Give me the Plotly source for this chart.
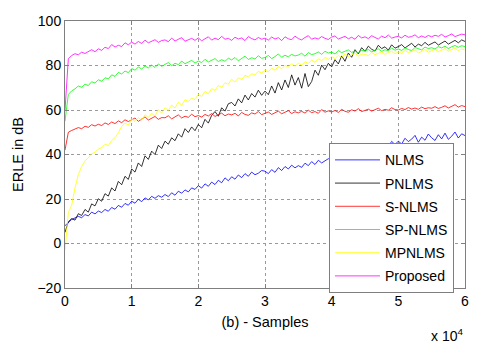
import plotly.graph_objects as go

# samples axis, one value every 500 samples
samples = list(range(0, 60001, 500))

x_tick_vals = [0, 10000, 20000, 30000, 40000, 50000, 60000]
x_tick_text = ["0", "1", "2", "3", "4", "5", "6"]
y_tick_vals = [-20, 0, 20, 40, 60, 80, 100]

nlms = [
    8, 9.6, 10.8, 11.5, 12.2, 11.6, 13.0, 12.4, 14.1, 13.3,
    14.6, 13.9, 15.3, 14.5, 16.2, 15.4, 17.1, 16.3, 18.0, 17.2,
    19.0, 18.1, 19.9, 18.8, 20.5, 19.6, 21.2, 20.3, 21.5, 20.8,
    22.0, 21.1, 22.8, 21.7, 23.5, 22.6, 24.1, 23.2, 25.0, 24.3,
    26.0, 24.9, 26.8, 25.7, 27.6, 26.5, 28.4, 27.3, 29.5, 28.2,
    30.0, 28.9, 30.8, 29.6, 31.4, 30.2, 32.1, 30.9, 31.6, 32.8,
    32.5, 31.4, 33.2, 32.0, 34.1, 32.8, 34.6, 33.5, 35.2, 34.0,
    35.0, 34.2, 36.1, 35.0, 36.8, 35.5, 37.4, 36.2, 37.0, 38.1,
    38.0, 37.2, 38.9, 38.1, 39.6, 38.7, 40.2, 39.4, 41.0, 40.1,
    41.0, 40.3, 42.1, 41.5, 43.0, 42.2, 44.8, 43.6, 45.9, 44.5,
    46.0, 44.7, 47.3, 45.8, 46.9, 48.6, 45.5, 47.8, 46.4, 49.2,
    47.5, 46.3, 48.9, 47.0, 49.6, 46.8, 48.2, 50.1, 47.4, 49.3,
    48.5,
]

pnlms = [
    5, 9.8, 11.2, 10.5, 13.4, 12.6, 15.3, 14.1, 17.8, 16.9,
    20.1, 19.0, 22.4, 21.3, 25.0, 23.6, 27.9, 26.4, 30.2, 28.8,
    33.5, 32.1, 36.2, 34.6, 39.4, 37.8, 41.5, 40.0, 44.2, 42.7,
    46.0, 44.6, 47.5, 46.2, 49.3, 47.8, 51.6, 49.9, 52.4, 50.7,
    53.5, 52.0, 55.8, 54.1, 57.6, 59.3, 57.2, 61.0, 59.5, 62.8,
    63.4, 61.8, 65.0, 63.2, 66.7, 64.5, 67.4, 65.8, 68.9, 66.6,
    68.5, 66.9, 70.8, 67.6, 72.3, 69.0, 73.5, 70.1, 75.8, 71.2,
    74.6, 69.8, 76.4, 70.5, 72.8, 77.9, 75.6, 80.2, 78.1, 81.0,
    79.4, 82.6, 80.7, 84.3, 81.9, 85.6, 83.7, 87.1, 85.2, 88.0,
    86.4, 88.7, 87.3, 86.5, 89.1, 87.6, 88.4, 86.9, 89.3, 87.8,
    88.5, 89.4, 87.9, 88.8, 90.0, 88.3, 89.6, 88.9, 90.4, 89.1,
    89.7, 90.6, 89.2, 90.1, 91.0, 89.6, 90.5, 91.3, 90.2, 91.5,
    90.8,
]

s_nlms = [
    42, 50.0, 50.8, 51.4, 52.1, 51.6, 52.7, 52.2, 53.4, 52.8,
    53.6, 53.0, 54.2, 53.5, 54.6, 53.9, 55.1, 54.3, 55.6, 54.8,
    55.5, 56.4, 54.9, 55.8, 56.9, 55.5, 56.2, 57.1, 55.8, 56.6,
    56.5, 57.4, 56.0, 56.9, 57.8, 56.4, 57.2, 56.7, 58.1, 57.0,
    57.5, 56.8, 58.0, 57.3, 58.4, 57.1, 57.9, 58.6, 57.4, 58.2,
    57.8, 58.5, 57.3, 58.9, 58.0, 57.6, 58.7, 58.2, 59.3, 57.9,
    58.5, 59.1, 58.0, 58.8, 59.5, 58.3, 58.9, 59.7, 58.4, 59.2,
    58.7, 59.4, 58.6, 59.9, 58.8, 59.3, 58.5, 60.2, 59.0, 59.6,
    59.1, 59.8, 58.9, 60.3, 59.4, 59.0, 60.1, 59.5, 60.6, 59.3,
    59.8, 60.4, 59.5, 60.0, 60.8, 59.7, 60.3, 59.9, 61.0, 60.2,
    60.0, 60.7, 60.2, 61.1, 60.4, 60.9, 60.3, 61.3, 60.6, 61.0,
    60.8, 61.5, 60.7, 61.2, 61.9, 60.9, 61.6, 62.4, 61.3, 62.0,
    61.5,
]

sp_nlms = [
    55, 67.0, 68.6, 69.5, 70.8, 70.2, 71.6, 71.0, 72.7, 72.1,
    73.6, 72.9, 74.5, 74.0, 75.8, 75.1, 76.9, 76.2, 77.5, 76.8,
    78.6, 77.9, 79.3, 78.4, 79.8, 78.9, 80.2, 79.1, 80.7, 79.6,
    80.5, 81.3, 79.9, 81.0, 80.4, 82.0, 80.8, 81.6, 82.3, 81.1,
    82.0, 81.3, 82.8, 81.6, 82.4, 83.1, 81.8, 82.6, 81.9, 83.3,
    82.5, 83.6, 82.1, 83.0, 84.2, 82.7, 83.5, 82.9, 84.4, 83.2,
    83.6, 84.5, 83.1, 84.0, 85.2, 83.7, 84.6, 83.9, 85.0, 84.3,
    84.7, 85.5, 84.2, 85.8, 84.9, 85.3, 86.1, 85.0, 86.4, 85.6,
    86.0, 85.2, 86.7, 85.8, 86.3, 87.0, 85.9, 86.5, 85.7, 86.8,
    86.5, 87.2, 86.1, 86.9, 87.5, 86.3, 87.1, 86.6, 87.8, 86.9,
    87.4, 86.8, 87.9, 87.2, 86.7, 88.1, 87.5, 87.0, 88.3, 87.6,
    88.0, 87.4, 88.5, 87.9, 88.7, 87.6, 88.4, 89.0, 88.2, 88.9,
    88.5,
]

mpnlms = [
    -3, 14.0, 17.2, 25.0, 31.0, 34.6, 37.2, 38.5, 40.3, 41.0,
    42.4, 43.1, 44.6, 44.0, 46.3, 47.5, 49.8, 52.6, 54.1, 53.2,
    56.0, 54.8, 56.6, 55.4, 57.9, 56.7, 58.5, 57.3, 60.2, 58.6,
    61.0, 59.8, 62.2, 60.9, 63.5, 62.1, 64.6, 63.8, 65.4, 64.7,
    67.0, 66.1, 68.4, 67.3, 69.6, 68.8, 71.0, 70.2, 72.3, 71.5,
    73.8, 72.6, 74.5, 73.7, 75.6, 74.9, 76.3, 75.8, 77.4, 76.6,
    78.0, 77.1, 78.8, 77.9, 79.5, 78.6, 80.1, 79.3, 80.8, 79.7,
    81.0, 80.2, 81.7, 80.9, 82.4, 81.5, 83.0, 82.2, 83.6, 82.8,
    84.0, 83.1, 84.5, 83.6, 85.2, 84.0, 84.8, 85.5, 84.3, 85.1,
    85.0, 84.4, 85.8, 84.9, 85.4, 86.2, 85.0, 85.7, 86.4, 85.3,
    86.0, 85.4, 86.7, 85.8, 86.3, 87.0, 85.6, 86.5, 87.2, 86.0,
    86.5, 87.3, 86.2, 86.9, 87.6, 86.4, 87.1, 87.8, 86.7, 87.4,
    87.0,
]

proposed = [
    60, 83, 84.5, 85.3, 84.8, 86, 85.4, 86.3, 87.1, 86.2,
    87.5, 86.8, 88.2, 87.6, 89.4, 88.3, 89.1, 88.5, 90.2, 89.3,
    90.5, 89.6, 90.8, 89.9, 91.4, 90.2, 90.9, 91.6, 90.4, 91.2,
    91.5, 90.7, 92.3, 91.0, 91.8, 92.5, 90.9, 91.7, 92.2, 91.3,
    92.4, 91.1, 92.0, 92.9, 91.4, 92.3, 91.6, 93.1, 91.8, 92.2,
    91.3, 92.7, 91.9, 92.4, 91.2, 93.0, 92.1, 91.5, 92.6, 91.8,
    92.3, 91.4, 92.8, 91.9, 92.5, 91.2, 92.9, 92.0, 91.6, 93.2,
    92.1, 91.5, 92.6, 93.4, 91.8, 92.4, 91.9, 93.0, 92.2, 91.7,
    92.8, 93.3, 91.9, 92.5, 93.1, 92.0, 92.7, 91.8, 93.5, 92.4,
    92.9, 92.1, 93.4, 92.6, 91.9, 93.2, 92.5, 93.7, 92.3, 92.8,
    93.1, 92.4, 93.6, 92.7, 93.0, 93.8, 92.5, 93.3, 92.6, 93.5,
    92.9, 93.6, 93.1, 94.0, 92.8, 93.4, 94.2, 93.0, 93.7, 94.1,
    93.8,
]

series = [
    ("NLMS", nlms, "#0000ff"),
    ("PNLMS", pnlms, "#000000"),
    ("S-NLMS", s_nlms, "#ff0000"),
    ("SP-NLMS", sp_nlms, "#00ff00"),
    ("MPNLMS", mpnlms, "#ffff00"),
    ("Proposed", proposed, "#ff00ff"),
]

fig = go.Figure()
for name, vals, color in series:
    fig.add_trace(go.Scatter(
        x=samples,
        y=vals,
        mode="lines",
        name=name,
        legendgroup=name,
        line=dict(color=color, width=0.8),
    ))

axis_common = dict(
    showline=True,
    linecolor="#7f7f7f",
    linewidth=1,
    mirror="ticks",
    ticks="inside",
    ticklen=4,
    tickcolor="#7f7f7f",
    showgrid=True,
    gridcolor="#9a9a9a",
    gridwidth=1,
    griddash="dot",
    zeroline=False,
    tickfont=dict(size=14, color="black"),
    ticklabeloverflow="allow",
)

# the page body adds an 8px margin, so the figure is 8px smaller each way
fig.update_layout(
    width=472,
    height=335,
    margin=dict(l=57, r=15, t=5, b=55),
    paper_bgcolor="white",
    plot_bgcolor="white",
    font=dict(family="Liberation Sans, Arial, sans-serif", size=14, color="black"),
    xaxis=dict(
        range=[0, 60000],
        tickvals=x_tick_vals,
        ticktext=x_tick_text,
        title=dict(text="(b) - Samples", font=dict(size=14.5), standoff=9),
        **axis_common,
    ),
    yaxis=dict(
        range=[-20, 100],
        tickvals=y_tick_vals,
        title=dict(text="ERLE in dB", font=dict(size=14.5), standoff=10),
        **axis_common,
    ),
    legend=dict(
        x=0.66,
        y=0.542,
        xanchor="left",
        yanchor="top",
        bgcolor="white",
        bordercolor="#7f7f7f",
        borderwidth=1,
        font=dict(size=14),
        itemwidth=45,
        tracegroupgap=2,
    ),
    showlegend=True,
)

# exponent label under the right end of the x axis
fig.add_annotation(
    text="x 10<sup>4</sup>",
    xref="paper", yref="paper",
    x=1.0, y=0,
    xanchor="right", yanchor="top",
    yshift=-36,
    showarrow=False,
    font=dict(size=14),
)

fig.write_html("out.html")
